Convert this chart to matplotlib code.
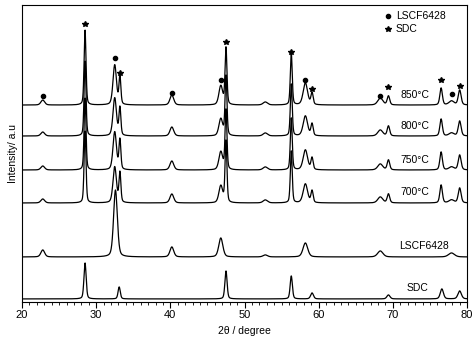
import numpy as np
import matplotlib
matplotlib.use("Agg")
import matplotlib.pyplot as plt
from matplotlib.ticker import MultipleLocator

plt.rcParams['font.family'] = ['Liberation Sans', 'DejaVu Sans']

# ---------------------------------------------------------
# Peak data (2theta in degree, heights in a.u.)
# ---------------------------------------------------------
mix_pos = [22.8, 28.5, 32.5, 33.2, 40.2, 46.8, 47.5, 52.8, 56.3, 58.2, 59.1, 68.3, 69.4, 76.5, 77.9, 79.0]
mix_fwhm = [0.6, 0.3, 0.55, 0.3, 0.6, 0.6, 0.3, 0.7, 0.3, 0.7, 0.35, 0.8, 0.4, 0.4, 0.8, 0.45]
h_850 = [5, 75, 40, 28, 10, 19, 57, 3, 52, 22, 12, 7, 9, 17, 4, 15]
h_800 = [4, 75, 38, 28, 9, 17, 60, 3, 52, 20, 12, 6, 10, 17, 3, 15]
h_750 = [4, 72, 38, 30, 9, 18, 60, 3, 52, 20, 12, 6, 10, 18, 3, 15]
h_700 = [4, 72, 36, 30, 9, 17, 62, 3, 52, 19, 12, 6, 9, 18, 3, 15]

lscf_pos = [22.8, 32.6, 40.2, 46.8, 52.8, 58.2, 68.3, 77.9]
lscf_fwhm = [0.6, 0.6, 0.6, 0.65, 0.7, 0.75, 0.85, 0.95]
h_lscf = [7, 67, 10, 19, 2, 14, 6, 4]

sdc_pos = [28.5, 33.1, 47.5, 56.3, 59.1, 69.4, 76.6, 79.0]
sdc_fwhm = [0.35, 0.35, 0.35, 0.35, 0.45, 0.5, 0.5, 0.55]
h_sdc = [36, 12, 28, 23, 6, 4, 10, 8]

offsets = {"850°C": 197, "800°C": 166, "750°C": 132, "700°C": 99, "LSCF6428": 45, "SDC": 3}

# phase markers above the 850 °C pattern
lscf_mark_x = [22.8, 32.5, 40.2, 46.8, 58.2, 68.3, 77.9]
lscf_mark_y = [206, 244, 209, 222, 222, 206, 208]
sdc_mark_x = [28.5, 33.2, 47.5, 56.3, 59.1, 69.4, 76.5, 79.0]
sdc_mark_y = [278, 229, 260, 250, 213, 215, 222, 216]


def pattern(x, pos, fwhm, heights):
    """Pseudo-Voigt sum for the listed peaks."""
    y = np.zeros_like(x)
    for p, w, h in zip(pos, fwhm, heights):
        g = np.exp(-4 * np.log(2) * ((x - p) / w) ** 2)
        l = 1.0 / (1 + ((x - p) / (w / 2)) ** 2)
        y += h * (0.65 * g + 0.35 * l)
    return y


x = np.linspace(20, 80, 4000)
curves = {
    "850°C": pattern(x, mix_pos, mix_fwhm, h_850),
    "800°C": pattern(x, mix_pos, mix_fwhm, h_800),
    "750°C": pattern(x, mix_pos, mix_fwhm, h_750),
    "700°C": pattern(x, mix_pos, mix_fwhm, h_700),
    "LSCF6428": pattern(x, lscf_pos, lscf_fwhm, h_lscf),
    "SDC": pattern(x, sdc_pos, sdc_fwhm, h_sdc),
}

fig = plt.figure(figsize=(4.74, 3.40), dpi=100)
ax = fig.add_axes([0.0464, 0.112, 0.939, 0.873])

for name, y in curves.items():
    ax.plot(x, y + offsets[name], color='black', lw=0.9)

# curve labels
label_pos = {"850°C": (71.0, 207), "800°C": (71.0, 176), "750°C": (71.0, 142),
             "700°C": (71.0, 110), "LSCF6428": (70.9, 56), "SDC": (71.8, 14)}
for name, (lx, ly) in label_pos.items():
    ax.text(lx, ly, name, fontsize=7.5, ha='left', va='center')

ax.plot(lscf_mark_x, lscf_mark_y, 'o', color='black', ms=3, ls='none')
ax.plot(sdc_mark_x, sdc_mark_y, '*', color='black', ms=4, ls='none')

# legend in the top right
ax.plot([69.3], [286], 'o', color='black', ms=3)
ax.text(70.4, 286, "LSCF6428", fontsize=7.5, va='center')
ax.plot([69.3], [273], '*', color='black', ms=4)
ax.text(70.4, 273, "SDC", fontsize=7.5, va='center')

ax.set_xlim(20, 80)
ax.set_ylim(0, 297)
ax.xaxis.set_major_locator(MultipleLocator(10))
ax.xaxis.set_minor_locator(MultipleLocator(1))
ax.tick_params(axis='x', which='major', direction='out', length=4, labelsize=8, pad=2)
ax.tick_params(axis='x', which='minor', direction='out', length=2.5)
ax.set_yticks([])
ax.set_xlabel("2θ / degree", fontsize=7.5, labelpad=4)
ax.set_ylabel("Intensity/ a.u", fontsize=7.5, labelpad=3)

fig.savefig("out.png", dpi=100)
